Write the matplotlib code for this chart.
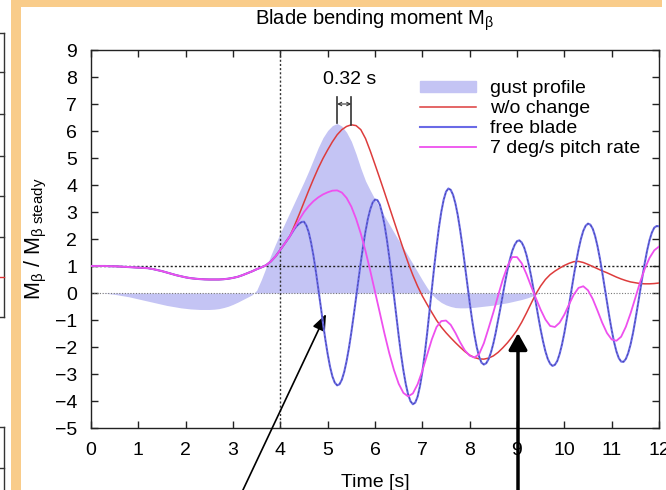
import matplotlib
matplotlib.use("Agg")
import matplotlib.pyplot as plt
import numpy as np
from matplotlib.lines import Line2D
from matplotlib.patches import Patch, Rectangle

plt.rcParams['font.family'] = ['Liberation Sans', 'DejaVu Sans']
plt.rcParams['mathtext.fontset'] = 'custom'
plt.rcParams['mathtext.rm'] = 'Liberation Sans'
plt.rcParams['mathtext.it'] = 'Liberation Sans'
plt.rcParams['mathtext.bf'] = 'Liberation Sans:bold'

# time grid, 0.1 s steps (0.05 s for the fast free-blade oscillation after 4.3 s)
time = np.linspace(0, 12, 121)
time_fine = np.linspace(4.3, 12, 155)

# all three responses are identical up to t = 4.2 s
common_start = [1.00, 1.00, 1.00, 1.00, 0.99, 0.99, 0.98, 0.97, 0.96, 0.95,
                0.94, 0.93, 0.92, 0.89, 0.85, 0.81, 0.76, 0.71, 0.66, 0.62,
                0.58, 0.55, 0.53, 0.515, 0.505, 0.50, 0.50, 0.50, 0.51, 0.53,
                0.56, 0.60, 0.66, 0.73, 0.80, 0.88, 0.95, 1.03, 1.17, 1.36,
                1.60, 1.85, 2.10]

# t = 4.3 ... 12.0, step 0.1
red_rest = [2.50, 2.92, 3.36, 3.80, 4.22, 4.62, 4.98,
            5.30, 5.60, 5.86, 6.05, 6.17, 6.23, 6.20, 6.05, 5.72, 5.26,
            4.76, 4.25, 3.73, 3.20, 2.67, 2.14, 1.62, 1.12, 0.66, 0.25,
            -0.11, -0.42, -0.72, -1.01, -1.26, -1.47, -1.66, -1.84, -2.01, -2.17,
            -2.30, -2.39, -2.44, -2.45, -2.41, -2.33, -2.20, -2.03, -1.84, -1.62,
            -1.38, -1.08, -0.74, -0.38, -0.03, 0.26, 0.50, 0.68, 0.81, 0.92,
            1.02, 1.10, 1.16, 1.17, 1.13, 1.06, 0.98, 0.90, 0.82, 0.75,
            0.67, 0.59, 0.52, 0.46, 0.41, 0.38, 0.35, 0.34, 0.34, 0.35,
            0.37]

# t = 4.30 ... 12.00, step 0.05
blue_rest = [2.38, 2.49, 2.57, 2.63, 2.64,
             2.50, 2.25, 1.86, 1.38, 0.81, 0.19, -0.45, -1.10, -1.71, -2.26,
             -2.73, -3.09, -3.32, -3.42,
             -3.38, -3.21, -2.92, -2.52, -2.03, -1.46, -0.83, -0.17, 0.49, 1.14,
             1.75, 2.29, 2.75, 3.10, 3.35, 3.46,
             3.44, 3.28, 2.97, 2.54, 1.99, 1.35, 0.65, -0.10, -0.85, -1.58,
             -2.27, -2.87, -3.37, -3.76, -4.01, -4.12,
             -4.06, -3.84, -3.45, -2.92, -2.27, -1.52, -0.71, 0.13, 0.95, 1.72,
             2.42, 3.00, 3.45, 3.75, 3.87,
             3.82, 3.63, 3.31, 2.87, 2.32, 1.70, 1.02, 0.33, -0.35, -0.98,
             -1.54, -2.01, -2.36, -2.58, -2.65,
             -2.60, -2.45, -2.20, -1.87, -1.47, -1.02, -0.55, -0.06, 0.42, 0.86,
             1.24, 1.56, 1.78, 1.92,
             1.95, 1.87, 1.69, 1.41, 1.04, 0.61, 0.13, -0.38, -0.88, -1.36,
             -1.79, -2.16, -2.44, -2.62, -2.70,
             -2.66, -2.52, -2.26, -1.91, -1.48, -0.98, -0.45, 0.10, 0.64, 1.15,
             1.61, 2.00, 2.30, 2.49, 2.57,
             2.53, 2.38, 2.11, 1.74, 1.29, 0.78, 0.23, -0.33, -0.87, -1.37,
             -1.81, -2.16, -2.41, -2.54,
             -2.55, -2.44, -2.22, -1.90, -1.49, -1.00, -0.48, 0.07, 0.61, 1.12,
             1.58, 1.96, 2.24, 2.42, 2.48,
             2.47]

# t = 4.3 ... 12.0, step 0.1
pink_rest = [2.42, 2.72, 3.00, 3.22, 3.40, 3.54, 3.65,
             3.73, 3.79, 3.80, 3.72, 3.52, 3.20, 2.75, 2.20, 1.55, 0.82,
             0.05, -0.72, -1.50, -2.22, -2.85, -3.36, -3.70, -3.83, -3.72, -3.38,
             -2.88, -2.30, -1.72, -1.26, -1.04, -1.02, -1.18, -1.48, -1.83, -2.13,
             -2.32, -2.39, -2.26, -1.86, -1.30, -0.72, -0.10, 0.50, 1.00, 1.33,
             1.33, 1.10, 0.70, 0.24, -0.20, -0.62, -0.98, -1.22, -1.26, -1.10,
             -0.80, -0.42, -0.06, 0.19, 0.25, 0.10, -0.22, -0.65, -1.10, -1.48,
             -1.72, -1.77, -1.62, -1.25, -0.75, -0.18, 0.40, 0.90, 1.30, 1.58,
             1.72]

gust = [0, 0, 0, -0.01, -0.03, -0.05, -0.08, -0.11, -0.14, -0.18,
        -0.22, -0.26, -0.30, -0.34, -0.38, -0.42, -0.46, -0.49, -0.52, -0.55,
        -0.57, -0.59, -0.60, -0.61, -0.61, -0.61, -0.60, -0.58, -0.54, -0.49,
        -0.42, -0.34, -0.25, -0.16, -0.07, 0.10, 0.50, 0.95, 1.40, 1.82,
        2.22, 2.60, 2.98, 3.36, 3.74, 4.12, 4.52, 4.95, 5.38, 5.75,
        6.02, 6.20, 6.28, 6.18, 5.95, 5.62, 5.15, 4.62, 4.15, 3.80,
        3.47, 3.15, 2.85, 2.55, 2.25, 1.95, 1.67, 1.38, 1.08, 0.78,
        0.48, 0.20, -0.05, -0.22, -0.35, -0.44, -0.50, -0.54, -0.55, -0.55,
        -0.54, -0.53, -0.51, -0.49, -0.47, -0.45, -0.42, -0.39, -0.36, -0.32,
        -0.28, -0.24, -0.19, -0.13, -0.05, 0, 0, 0, 0, 0,
        0, 0, 0, 0, 0, 0, 0, 0, 0, 0,
        0, 0, 0, 0, 0, 0, 0, 0, 0, 0,
        0]

labels = ['gust profile', 'w/o change', 'free blade', '7 deg/s pitch rate']
xticks = list(range(0, 13))
yticks = list(range(-5, 10))

gust = np.array(gust)
no_change = np.array(common_start + red_rest)
pitch_rate = np.array(common_start + pink_rest)
time_blue = np.concatenate([time[:len(common_start)], time_fine])
free_blade = np.array(common_start + blue_rest)

C_GUST = '#C4C4F4'
C_RED = '#DD3C3C'
C_BLUE = '#6A6AE6'
C_PINK = '#EE50EE'

fig = plt.figure(figsize=(6.66, 4.90), dpi=100)
ax = fig.add_axes([91 / 666, 1 - 428 / 490, (659 - 91) / 666, (428 - 50) / 490])

ax.fill_between(time, 0, gust, color=C_GUST, lw=0, zorder=1)
ax.axhline(0, color='#777777', ls=(0, (1, 1.5)), lw=0.8, zorder=2)
ax.axhline(1, color='#222222', ls=(0, (1.5, 1.5)), lw=1.0, zorder=2)
ax.axvline(4, color='#333333', ls=(0, (1.5, 1.5)), lw=1.0, zorder=2)

ax.plot(time, no_change, color=C_RED, lw=1.1, zorder=3)
ax.plot(time_blue, free_blade, color=C_BLUE, lw=1.5, zorder=4)
ax.plot(time_blue, free_blade, color='#2A2A7A', lw=0.5, ls=(0, (3, 3)), alpha=0.7, zorder=4)
ax.plot(time, pitch_rate, color=C_PINK, lw=1.3, zorder=5)

# 0.32 s phase shift marker between gust peak and response peak
tg = time[np.argmax(gust)]
tr = time[np.argmax(no_change)]
ax.plot([tg, tg], [gust.max(), 7.25], color='#333333', lw=1.2, zorder=6)
ax.plot([tr, tr], [no_change.max(), 7.25], color='#333333', lw=1.2, zorder=6)
ax.annotate('', xy=(tg, 7.0), xytext=(tr, 7.0),
            arrowprops=dict(arrowstyle='<->', lw=0.8, color='#333333',
                            mutation_scale=6, shrinkA=0, shrinkB=0))
ax.text((tg + tr) / 2 + 0.12, 7.9, '0.32 s', ha='center', va='center', fontsize=14)

ax.set_xlim(0, 12)
ax.set_ylim(-5, 9)
ax.set_xticks(xticks)
ax.set_yticks(yticks)
ax.tick_params(direction='in', length=5, width=1, top=True, right=True,
               labelsize=14, color='#222222')
ax.tick_params(axis='y', pad=10)
ax.tick_params(axis='x', pad=10)
for s in ax.spines.values():
    s.set_color('#222222')
    s.set_linewidth(1.0)

ax.set_title(r'Blade bending moment M$_\beta$', fontsize=14.5, pad=18)
ax.set_xlabel('Time [s]', fontsize=14, labelpad=11)
ax.set_ylabel(r'M$_\beta$ / M$_{\beta\ \mathrm{steady}}$', fontsize=15.5, labelpad=4)

handles = [Patch(color=C_GUST),
           Line2D([], [], color=C_RED, lw=1.1),
           Line2D([], [], color=C_BLUE, lw=1.5),
           Line2D([], [], color=C_PINK, lw=1.3)]
ax.legend(handles, labels, loc='upper left', bbox_to_anchor=(0.579, 0.92),
          frameon=False, fontsize=14, handlelength=2.9, handleheight=0.5,
          handletextpad=0.7, labelspacing=0.15, borderpad=0, borderaxespad=0)

# slide frame around the chart
orange = '#F9CC8A'
fig.add_artist(Rectangle((11 / 666, 0), 10 / 666, 1, transform=fig.transFigure,
                         color=orange, lw=0))
fig.add_artist(Rectangle((11 / 666, 1 - 7 / 490), (662 - 11) / 666, 7 / 490,
                         transform=fig.transFigure, color=orange, lw=0))

# edge of the neighbouring chart on the slide
def fig_line(xs, ys, color='#333333', lw=1.0):
    fig.add_artist(Line2D([x / 666 for x in xs], [1 - y / 490 for y in ys],
                          transform=fig.transFigure, color=color, lw=lw))

fig_line([4, 4], [32.7, 316.7])
for yy in [32.7, 71.7, 114.3, 155.7, 196, 236.7, 316.7]:
    fig_line([0, 4], [yy, yy])
fig_line([0, 4], [276.7, 276.7], color='#DD3333')
fig_line([4, 4], [427, 490])
for yy in [427, 468]:
    fig_line([0, 4], [yy, yy])

# slide arrows pointing into the chart
ax.annotate('', xy=(326, 490 - 314), xycoords='figure pixels',
            xytext=(242, -2), textcoords='figure pixels', annotation_clip=False,
            arrowprops=dict(arrowstyle='-|>,head_length=0.5,head_width=0.2',
                            mutation_scale=20, color='black', lw=1.2,
                            shrinkA=0, shrinkB=0))
ax.annotate('', xy=(518, 490 - 333), xycoords='figure pixels',
            xytext=(518, -2), textcoords='figure pixels', annotation_clip=False,
            arrowprops=dict(arrowstyle='-|>,head_length=0.5,head_width=0.28',
                            mutation_scale=20, color='black', lw=2.5,
                            shrinkA=0, shrinkB=0))

fig.savefig('out.png', dpi=100)
